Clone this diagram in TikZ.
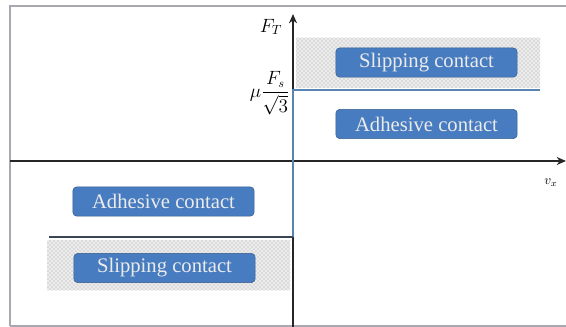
\documentclass[tikz,border=0pt]{standalone}
\usepackage{fontspec}
\setmainfont{Liberation Serif}
\usepackage{amsmath}
\usetikzlibrary{arrows.meta,patterns}
\definecolor{boxblue}{RGB}{72,124,192}
\definecolor{limitblue}{RGB}{88,132,178}
\definecolor{limitdark}{RGB}{58,70,86}
\definecolor{framegray}{RGB}{168,168,176}
\tikzset{
  regionbox/.style={rounded corners=3pt, fill=boxblue, draw=boxblue!75!black,
    text=white!92!black, minimum width=136pt, minimum height=22pt, inner sep=0pt,
    font=\fontsize{15.5}{17}\selectfont},
  slipzone/.style={pattern=crosshatch dots, pattern color=gray!70},
  axis/.style={line width=1.1pt, draw=black!85, -{Stealth[length=7pt,width=6pt]}},
}

\begin{document}
\begin{tikzpicture}[x=0.75pt,y=-0.75pt]
\useasboundingbox (0,0) rectangle (566,327);
% frame
\draw[framegray, line width=1.5pt] (10,326) -- (10,6) -- (575,6);
\draw[framegray, line width=1.5pt] (10,326) -- (575,326);
% zones where the contact slips
\fill[gray!15] (296,38) rectangle (540,88);
\fill[slipzone] (296,38) rectangle (540,88);
\fill[gray!15] (47,240) rectangle (290,290);
\fill[slipzone] (47,240) rectangle (290,290);
% axes
\coordinate (O) at (293,161);
\coordinate (xl) at (10,161);
\coordinate (xr) at (566,161);
\coordinate (yb) at (293,327);
\coordinate (yt) at (293,14);
\draw[axis] (xl) -- (xr);
\draw[axis] (yb) -- (yt);
% limit of the tangential force
\coordinate (up-r) at (540,90);
\coordinate (up-l) at (293,90);
\coordinate (lo-r) at (293,237);
\coordinate (lo-l) at (49,237);
\draw[limitblue, line width=1.2pt] (up-r) -- (up-l) -- (lo-r);
\draw[limitdark, line width=1.2pt] (lo-r) -- (lo-l);
% regions
\node[regionbox] (slipup) at (426.5,62.5) {Slipping contact};
\node[regionbox] (adhup) at (426.5,124) {Adhesive contact};
\node[regionbox] (adhlo) at (163.5,201.5) {Adhesive contact};
\node[regionbox] (sliplo) at (164.5,268) {Slipping contact};
% labels
\node[anchor=east, font=\fontsize{14}{16}\selectfont] (ft) at (287,27) {$F_T$};
\node[anchor=east, inner sep=0pt, font=\fontsize{13.5}{15}\selectfont] (mu) at (290,93) {$\mu\dfrac{F_s}{\sqrt{3}}$};
\node[font=\fontsize{10}{12}\selectfont] (vx) at (551,183) {$v_x$};
\end{tikzpicture}
\end{document}
